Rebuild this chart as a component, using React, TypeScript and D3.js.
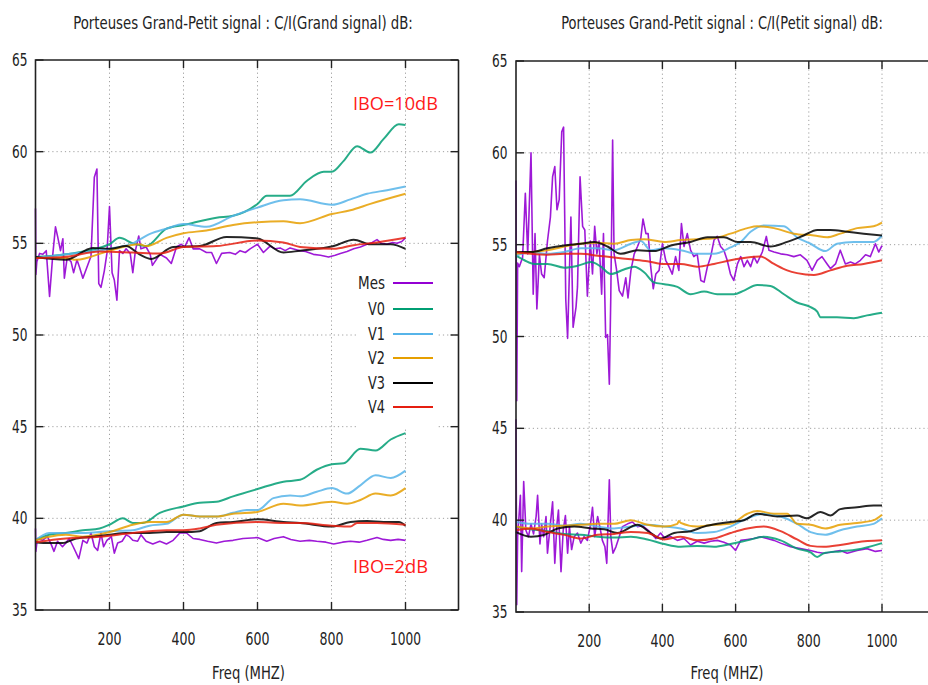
import * as d3 from "d3";

type Pt = [number, number];

// series names and gnuplot-like colours
const seriesNames = ["Mes", "V0", "V1", "V2", "V3", "V4"];
const seriesColors = ["#9400d3", "#009e73", "#56b4e9", "#e69f00", "#000000", "#e51e10"];

const xTicks = [200, 400, 600, 800, 1000];
const yTicks = [35, 40, 45, 50, 55, 60, 65];
const yGrid = [40, 45, 50, 55, 60];

/* ---------- C/I (Grand signal), IBO = 10 dB ---------- */
const grandMes10: Pt[] = [[0,56.9],[1,53.3],[3.6,54.0],[11,54.45],[20,54.4],[29,54.6],[38,52.1],[47,54.45],[54,55.9],[60,55.35],[67.5,54.6],[74,55.25],[78,53.1],[85.5,54.2],[96,54.0],[103,53.4],[112,54.1],[119,53.7],[128,53.1],[139,53.7],[150,54.3],[159,58.6],[166,59.05],[171,52.8],[177,52.6],[186,53.5],[193,54.45],[200,57.0],[207,53.4],[213,53.0],[220,51.9],[227,54.6],[236,54.45],[245,54.7],[256,54.45],[263,53.4],[270,54.6],[279,55.4],[285,54.7],[299,54.8],[310,54.4],[316,53.8],[336,54.4],[354,54.2],[367,53.9],[381,54.8],[394,54.95],[403,54.8],[415,55.3],[426,54.7],[444,54.7],[462,54.5],[476,54.5],[489,53.9],[503,54.45],[525,54.5],[540,54.4],[553,54.6],[567,54.5],[580,54.7],[600,54.95],[616,54.5],[634,54.85],[648,54.7],[661,54.75],[675,54.6],[688,54.75],[715,54.6],[730,54.55],[751,54.4],[770,54.35],[792,54.25],[810,54.35],[824,54.45],[842,54.55],[860,54.7],[878,54.8],[896,54.95],[910,55.05],[923,55.2],[935,55.0],[950,54.95],[965,55.05],[977,55.0],[990,55.1],[1000,55.3]];
const grandV0_10: Pt[] = [[0,54.25],[82,54.4],[200,54.95],[227,55.3],[263,55.0],[299,54.85],[354,55.8],[400,56.0],[489,56.4],[534,56.5],[600,57.15],[625,57.6],[688,57.6],[733,58.4],[779,58.9],[801,58.9],[833,59.5],[869,60.3],[905,59.95],[941,60.7],[982,61.5],[1000,61.45]];
const grandV1_10: Pt[] = [[0,54.2],[82,54.4],[200,54.7],[263,55.0],[308,55.5],[354,55.8],[400,56.05],[462,55.9],[534,56.5],[600,56.95],[670,57.35],[715,57.4],[801,57.1],[851,57.4],[896,57.7],[950,57.9],[1000,58.1]];
const grandV2_10: Pt[] = [[0,54.2],[82,54.2],[110,54.1],[200,54.6],[281,54.95],[299,54.85],[354,55.3],[400,55.55],[462,55.7],[534,56.0],[600,56.15],[670,56.2],[715,56.1],[801,56.6],[851,56.8],[905,57.15],[1000,57.7]];
const grandV3_10: Pt[] = [[0,54.25],[82,54.1],[155,54.75],[200,54.7],[245,54.85],[281,54.4],[313,54.15],[372,54.8],[444,54.85],[516,55.35],[600,55.27],[670,54.5],[715,54.6],[806,54.85],[860,55.2],[905,54.95],[960,54.95],[1000,54.7]];
const grandV4_10: Pt[] = [[0,54.2],[82,54.27],[173,54.55],[263,54.5],[336,54.45],[400,54.8],[489,54.85],[600,55.15],[670,55.05],[715,54.8],[806,54.7],[860,54.9],[923,55.05],[1000,55.3]];

/* ---------- C/I (Grand signal), IBO = 2 dB ---------- */
const grandMes2: Pt[] = [[0,39.45],[1,38.2],[5,38.9],[19,38.8],[32,39.0],[41,38.65],[50,38.2],[59.5,38.75],[73,38.45],[82,38.65],[91,38.9],[102,38.45],[117,37.8],[128,38.8],[139,38.65],[150,39.2],[159,38.45],[168,38.25],[177,39.2],[184,38.45],[193,38.8],[205,39.0],[213,38.1],[222,38.65],[234,38.75],[245,39.1],[254,39.0],[263,38.8],[276,38.75],[285,39.1],[299,38.75],[317,38.6],[336,38.75],[354,38.6],[372,38.8],[390,39.2],[408,39.2],[426,38.9],[444,38.85],[465,38.75],[489,38.65],[510,38.75],[534,38.8],[561,38.9],[600,38.95],[625,38.75],[645,38.9],[670,39.0],[690,38.85],[715,38.75],[740,38.8],[760,38.75],[785,38.7],[806,38.6],[830,38.7],[851,38.75],[875,38.7],[896,38.8],[923,38.95],[940,38.85],[960,38.8],[980,38.85],[1000,38.8]];
const grandV0_2: Pt[] = [[0,38.8],[37,39.1],[82,39.2],[128,39.35],[173,39.45],[200,39.65],[236,40.0],[263,39.75],[290,39.75],[336,40.3],[400,40.65],[444,40.85],[489,40.9],[534,41.2],[600,41.6],[670,42.0],[715,42.1],[760,42.65],[801,42.95],[833,43.0],[878,43.8],[919,43.7],[960,44.3],[1000,44.65]];
const grandV1_2: Pt[] = [[0,38.8],[37,39.2],[82,39.2],[128,39.2],[200,39.3],[263,39.35],[308,39.6],[354,39.7],[400,40.2],[444,40.1],[489,40.1],[534,40.3],[571,40.45],[600,40.45],[643,41.1],[688,41.25],[715,41.2],[760,41.45],[801,41.65],[842,41.35],[878,41.8],[919,42.35],[960,42.2],[1000,42.6]];
const grandV2_2: Pt[] = [[0,38.8],[37,39.0],[82,39.1],[128,39.0],[200,39.25],[263,39.65],[308,39.8],[354,39.8],[400,40.2],[444,40.1],[489,40.1],[534,40.25],[600,40.35],[670,40.8],[715,40.7],[801,40.9],[842,40.8],[878,41.0],[919,41.35],[960,41.25],[1000,41.65]];
const grandV3_2: Pt[] = [[0,38.7],[37,38.65],[73,38.65],[110,38.9],[155,39.0],[200,39.1],[245,39.2],[308,39.2],[354,39.25],[400,39.25],[444,39.3],[489,39.75],[534,39.8],[600,39.95],[670,39.8],[715,39.75],[801,39.55],[851,39.8],[896,39.85],[941,39.8],[982,39.8],[1000,39.6]];
const grandV4_2: Pt[] = [[0,38.7],[82,38.9],[173,39.0],[263,39.2],[354,39.35],[400,39.35],[444,39.45],[489,39.65],[600,39.8],[670,39.75],[715,39.75],[801,39.6],[851,39.55],[869,39.75],[923,39.75],[1000,39.65]];

/* ---------- C/I (Petit signal), IBO = 10 dB ---------- */
const petitMes10: Pt[] = [[0,58.5],[2,46.5],[4.5,54.0],[9,53.8],[18,54.3],[25.5,57.8],[32,54.5],[41,60.0],[47,52.3],[52,55.6],[57,51.5],[64,54.45],[70,53.4],[77,53.2],[86,55.2],[94,56.5],[100,58.7],[106,59.25],[112,56.9],[118,57.45],[125,61.15],[130,61.4],[136,52.0],[141,49.9],[150,56.5],[156,50.5],[164,51.6],[168,52.7],[175,58.7],[182,56.0],[188,55.8],[195,52.2],[203,55.2],[209,53.4],[215,56.0],[221,54.5],[227,55.2],[234,52.3],[239,55.6],[245,49.95],[250,50.1],[255,47.4],[259,52.2],[264,60.7],[268,54.5],[275,53.6],[282,52.5],[291,52.2],[300,53.2],[306,52.1],[314,53.6],[323,54.5],[332,54.9],[341,55.35],[347,56.4],[355,55.6],[361,55.6],[368,53.8],[375,52.6],[382,53.4],[391,53.6],[400,55.05],[409,54.15],[418,53.8],[427,53.4],[436,54.35],[445,53.6],[452,56.15],[459,54.9],[468,55.6],[477,54.7],[486,54.35],[495,54.5],[505,53.05],[514,52.96],[523,53.8],[532,54.35],[541,55.25],[550,55.45],[559,54.9],[568,54.7],[577,54.15],[586,53.4],[595,53.05],[605,53.95],[614,54.35],[623,53.8],[632,54.15],[641,53.8],[650,54.35],[659,54.0],[673,54.6],[684,55.45],[691,54.7],[705,54.6],[723,54.5],[741,54.45],[759,54.35],[777,54.45],[795,54.15],[809,53.6],[823,54.15],[836,54.35],[850,53.95],[859,53.7],[873,53.95],[886,54.7],[900,53.95],[914,54.05],[927,53.95],[941,54.15],[955,54.45],[968,54.35],[982,55.05],[991,54.6],[1000,54.95]];
const petitV0_10: Pt[] = [[0,54.4],[23,54.15],[50,53.95],[86,53.95],[132,53.75],[168,53.85],[205,54.05],[232,53.8],[259,53.4],[295,53.65],[323,53.8],[350,53.5],[377,52.95],[405,52.85],[441,52.7],[477,52.3],[514,52.45],[550,52.3],[595,52.3],[623,52.5],[659,52.8],[695,52.75],[732,52.3],[768,51.85],[805,51.6],[823,51.35],[832,51.05],[877,51.05],[923,51.0],[959,51.15],[1000,51.3]];
const petitV1_10: Pt[] = [[0,54.4],[41,54.6],[86,54.5],[132,54.6],[177,54.8],[223,54.8],[268,54.7],[314,55.05],[341,55.2],[368,54.7],[405,54.8],[450,54.7],[495,54.5],[541,54.5],[586,54.85],[614,55.15],[641,55.7],[677,56.05],[732,56.0],[768,55.4],[805,55.05],[845,54.65],[877,55.05],[923,55.15],[977,55.15],[1000,55.5]];
const petitV2_10: Pt[] = [[0,54.5],[41,54.6],[86,54.7],[132,54.9],[177,55.05],[223,55.1],[268,55.05],[314,55.25],[350,55.3],[405,55.15],[450,55.25],[495,55.3],[541,55.35],[586,55.6],[632,55.9],[659,56.0],[705,55.9],[759,55.6],[814,55.5],[850,55.4],[886,55.6],[932,55.9],[977,56.0],[1000,56.2]];
const petitV3_10: Pt[] = [[0,54.6],[41,54.6],[86,54.8],[132,54.95],[177,55.05],[214,55.15],[250,54.9],[286,54.5],[332,54.7],[377,54.65],[423,54.95],[477,55.15],[523,55.4],[568,55.4],[605,55.15],[641,55.15],[695,54.9],[741,55.15],[786,55.5],[823,55.8],[859,55.8],[905,55.7],[950,55.6],[1000,55.5]];
const petitV4_10: Pt[] = [[0,54.6],[41,54.5],[86,54.45],[132,54.5],[177,54.5],[223,54.4],[268,54.3],[314,54.2],[359,54.1],[405,53.95],[450,53.95],[495,53.8],[541,53.95],[586,54.15],[632,54.3],[668,54.35],[705,53.95],[741,53.6],[768,53.45],[814,53.35],[859,53.6],[905,53.85],[950,53.95],[1000,54.15]];

/* ---------- C/I (Petit signal), IBO = 2 dB ---------- */
const petitMes2: Pt[] = [[0,45.5],[2,35.4],[4.5,39.1],[12,41.35],[15.5,37.2],[21,42.1],[27,39.45],[34,39.1],[41,39.8],[48,39.25],[55,40.2],[59,41.35],[65.5,38.7],[70,39.8],[75.5,39.1],[82,40.2],[86,38.2],[94,39.8],[100,41.0],[106,37.65],[112,39.8],[116,40.55],[123,37.2],[129,39.45],[135,40.25],[141,38.2],[146,39.65],[152,38.4],[159,39.1],[168,39.3],[177,38.75],[186,39.1],[195,38.9],[203,39.7],[209,40.7],[215,39.1],[223,40.2],[229,39.65],[236,38.9],[243,38.55],[248,37.65],[255,42.2],[259,39.1],[265,38.2],[273,38.55],[282,39.1],[291,39.65],[305,39.8],[318,39.9],[332,39.65],[345,39.7],[364,39.4],[382,39.0],[395,39.3],[405,39.05],[423,39.1],[441,38.9],[459,39.0],[477,38.65],[495,38.85],[514,38.75],[532,38.85],[550,38.9],[568,38.8],[586,38.65],[600,38.35],[614,38.9],[632,38.95],[650,39.0],[668,39.1],[686,39.0],[705,38.9],[723,38.75],[750,38.55],[777,38.45],[805,38.35],[823,38.25],[841,38.2],[859,38.25],[886,38.35],[905,38.2],[932,38.35],[959,38.45],[982,38.3],[1000,38.35]];
const petitV0_2: Pt[] = [[0,39.65],[41,39.5],[86,39.4],[132,39.25],[177,39.2],[223,39.1],[268,39.05],[314,39.1],[359,38.95],[405,38.7],[450,38.55],[495,38.6],[541,38.55],[586,38.7],[632,38.9],[677,39.1],[723,38.9],[768,38.45],[805,38.25],[823,38.0],[841,38.2],[886,38.3],[932,38.4],[1000,38.75]];
const petitV1_2: Pt[] = [[0,39.9],[41,39.8],[86,39.8],[132,39.7],[177,39.8],[223,39.65],[268,39.55],[314,39.65],[359,39.75],[405,39.65],[450,39.55],[495,39.3],[541,39.35],[586,39.65],[632,40.1],[677,40.35],[723,40.2],[768,39.8],[805,39.35],[845,39.2],[886,39.45],[932,39.65],[977,39.8],[1000,40.1]];
const petitV2_2: Pt[] = [[0,39.65],[41,39.55],[86,39.65],[132,39.7],[177,39.75],[223,39.8],[268,39.8],[314,40.0],[359,39.75],[405,39.65],[441,39.8],[445,39.95],[450,39.85],[495,39.65],[541,39.75],[586,39.8],[632,40.35],[659,40.5],[705,40.35],[741,40.35],[768,39.8],[805,39.75],[845,39.55],[886,39.75],[932,39.85],[977,40.0],[1000,40.3]];
const petitV3_2: Pt[] = [[0,39.35],[41,39.1],[77,39.2],[114,39.55],[159,39.65],[205,39.55],[241,39.5],[277,39.3],[332,39.75],[368,39.3],[395,39.0],[432,39.3],[477,39.4],[514,39.65],[550,39.8],[586,39.9],[623,40.0],[659,40.35],[714,40.2],[768,40.25],[795,40.1],[832,40.45],[859,40.25],[886,40.6],[932,40.7],[977,40.8],[1000,40.8]];
const petitV4_2: Pt[] = [[0,39.45],[41,39.55],[86,39.35],[132,39.2],[177,39.0],[223,39.2],[268,39.25],[314,39.35],[359,39.3],[405,38.95],[450,39.1],[495,38.9],[541,39.0],[586,39.3],[632,39.55],[677,39.65],[723,39.4],[768,38.95],[805,38.6],[841,38.55],[886,38.65],[932,38.8],[1000,38.9]];

const grandSeries = [
  [grandMes10, grandMes2],
  [grandV0_10, grandV0_2],
  [grandV1_10, grandV1_2],
  [grandV2_10, grandV2_2],
  [grandV3_10, grandV3_2],
  [grandV4_10, grandV4_2],
];
const petitSeries = [
  [petitMes10, petitMes2],
  [petitV0_10, petitV0_2],
  [petitV1_10, petitV1_2],
  [petitV2_10, petitV2_2],
  [petitV3_10, petitV3_2],
  [petitV4_10, petitV4_2],
];

/** page */
const width = 928;
const height = 685;
const font = "'DejaVu Sans', Verdana, sans-serif";

/** text squeezed horizontally to a given width (the original is a condensed face) */
const FitText = ({
  x, y, w, anchor = "start", size = 17, fill = "#222", family = font, children,
}: {
  x: number; y: number; w: number; anchor?: string; size?: number;
  fill?: string; family?: string; children: string | number;
}) => (
  <text
    x={0}
    y={0}
    fontSize={size}
    fill={fill}
    fontFamily={family}
    textAnchor={anchor}
    transform={`translate(${x},${y})`}
    ref={(el) => {
      if (!el) return;
      const natural = el.getComputedTextLength();
      if (!natural) return;
      el.setAttribute("transform", `translate(${x},${y}) scale(${w / natural},1)`);
    }}
  >
    {children}
  </text>
);

type PanelDef = {
  left: number;
  right: number;
  top: number;
  bottom: number;
  x1000: number;
  title: string;
  titleX: number;
  titleLen: number;
  yLabelX: number;
  series: Pt[][][];
  withLegend: boolean;
};

const panels: PanelDef[] = [
  {
    left: 35.5, right: 458.5, top: 60, bottom: 610, x1000: 405.5,
    title: "Porteuses Grand-Petit signal : C/I(Grand signal) dB:",
    titleX: 243, titleLen: 340, yLabelX: 27.5,
    series: grandSeries, withLegend: true,
  },
  {
    left: 516, right: 940, top: 61, bottom: 612, x1000: 882,
    title: "Porteuses Grand-Petit signal : C/I(Petit signal) dB:",
    titleX: 722, titleLen: 322, yLabelX: 507.5,
    series: petitSeries, withLegend: false,
  },
];

const Panel = ({ p }: { p: PanelDef }) => {
  const x = d3.scaleLinear().domain([0, 1000]).range([p.left, p.x1000]);
  const y = d3.scaleLinear().domain([35, 65]).range([p.bottom, p.top]);

  const mesLine = d3.line<Pt>().x((d) => x(d[0])).y((d) => y(d[1]));
  const smoothLine = d3
    .line<Pt>()
    .x((d) => x(d[0]))
    .y((d) => y(d[1]))
    .curve(d3.curveMonotoneX);

  const legendY = [283, 309, 334, 358, 383, 407];

  return (
    <g>
      {/* title */}
      <FitText x={p.titleX} y={29} w={p.titleLen} anchor="middle" size={18}>
        {p.title}
      </FitText>

      {/* grid */}
      {xTicks.map((t) => (
        <line key={"gx" + t} x1={x(t)} x2={x(t)} y1={p.top} y2={p.bottom}
          stroke="#a0a0a0" strokeDasharray="1.2,3" />
      ))}
      {yGrid.map((t) => (
        <line key={"gy" + t} x1={p.left} x2={p.right} y1={y(t)} y2={y(t)}
          stroke="#a0a0a0" strokeDasharray="1.2,3" />
      ))}

      {/* legend box */}
      {p.withLegend && (
        <rect x={357} y={268} width={79} height={161} fill="#fff" />
      )}

      {/* data */}
      {p.series.map((groups, i) =>
        groups.map((data, j) => (
          <path key={i + "-" + j}
            d={(i === 0 ? mesLine : smoothLine)(data) ?? ""}
            fill="none" stroke={seriesColors[i]}
            strokeWidth={i === 0 ? 1.6 : 2}
            strokeOpacity={i === 0 ? 0.9 : 0.85}
            strokeLinejoin="round" />
        ))
      )}

      {/* frame */}
      <path d={`M${p.right},${p.top}H${p.left}V${p.bottom}H${p.right}`}
        fill="none" stroke="#222" strokeWidth={1.6} />
      <line x1={p.right} x2={p.right} y1={p.top} y2={p.bottom} stroke="#222" strokeWidth={1.6} />

      {/* ticks, mirrored gnuplot style */}
      {xTicks.map((t) => (
        <g key={"tx" + t}>
          <line x1={x(t)} x2={x(t)} y1={p.bottom} y2={p.bottom - 8} stroke="#222" strokeWidth={1.4} />
          <line x1={x(t)} x2={x(t)} y1={p.top} y2={p.top + 8} stroke="#222" strokeWidth={1.4} />
          <FitText x={x(t)} y={p.bottom + 35} w={t === 1000 ? 31 : 24} anchor="middle">
            {t}
          </FitText>
        </g>
      ))}
      {yTicks.map((t) => (
        <g key={"ty" + t}>
          <line x1={p.left} x2={p.left + 8} y1={y(t)} y2={y(t)} stroke="#222" strokeWidth={1.4} />
          <line x1={p.right} x2={p.right - 8} y1={y(t)} y2={y(t)} stroke="#222" strokeWidth={1.4} />
          <FitText x={p.yLabelX} y={y(t) + 6} w={15.5} anchor="end">
            {t}
          </FitText>
        </g>
      ))}

      {/* x label */}
      <FitText x={(p.left + p.x1000) / 2 + 28} y={679} w={73} anchor="middle">
        Freq (MHZ)
      </FitText>

      {p.withLegend && (
        <g>
          {seriesNames.map((n, i) => (
            <g key={n}>
              <FitText x={385} y={legendY[i] + 6} w={n === "Mes" ? 27 : 17} anchor="end">
                {n}
              </FitText>
              <line x1={393} x2={433} y1={legendY[i]} y2={legendY[i]}
                stroke={seriesColors[i]} strokeWidth={2} />
            </g>
          ))}
          <FitText x={353} y={110} w={85} size={18} fill="#ff1a1a" family="'Open Sans', sans-serif">
            IBO=10dB
          </FitText>
          <FitText x={353} y={573} w={75} size={18} fill="#ff1a1a" family="'Open Sans', sans-serif">
            IBO=2dB
          </FitText>
        </g>
      )}
    </g>
  );
};

const App = () => (
  <svg width={width} height={height} viewBox={`0 0 ${width} ${height}`}
    style={{ position: "absolute", left: 0, top: 0, background: "#fff" }}>
    <rect width={width} height={height} fill="#fff" />
    {panels.map((p) => (
      <Panel key={p.title} p={p} />
    ))}
  </svg>
);

export default App;
